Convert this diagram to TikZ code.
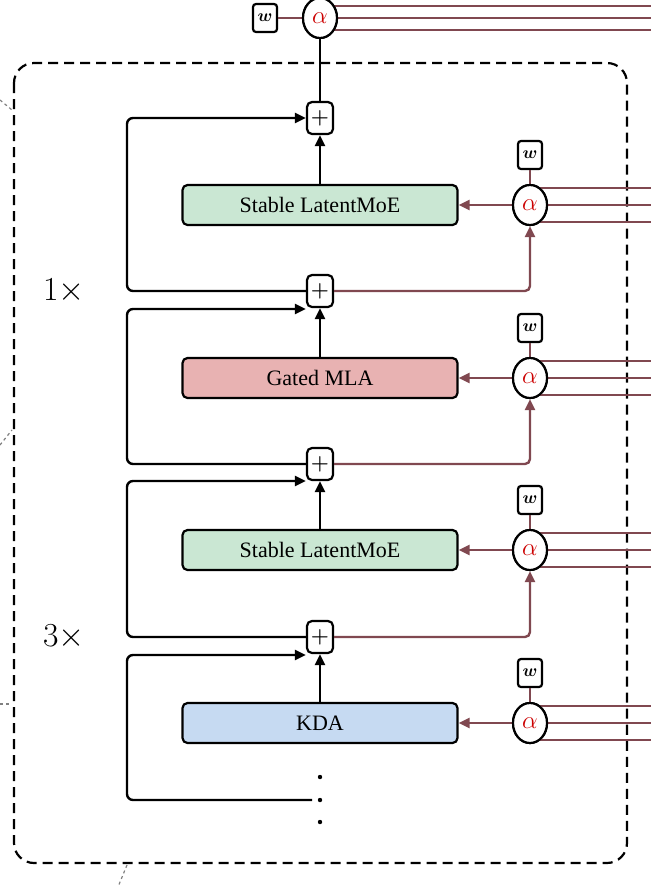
\documentclass[tikz,border=0pt]{standalone}
\usepackage{fontspec}
\setmainfont{Liberation Serif}
\usepackage{amsmath}
\usepackage{bm}
\usetikzlibrary{shapes,arrows.meta,positioning}
\definecolor{mixred}{RGB}{128,72,80}
\definecolor{moegreen}{RGB}{202,231,211}
\definecolor{mlared}{RGB}{232,178,178}
\definecolor{kdablue}{RGB}{198,218,242}
\tikzset{
  block/.style={draw, line width=2.2pt, rounded corners=5pt, minimum width=275pt, minimum height=40pt, font=\fontsize{22}{22}\selectfont},
  plusbox/.style={draw, line width=2.2pt, rounded corners=5pt, fill=white, minimum width=26pt, minimum height=32pt, inner sep=0pt, font=\huge},
  alphanode/.style={draw, ellipse, line width=2.2pt, fill=white, minimum width=34pt, minimum height=40pt, inner sep=0pt, text=red!80!black, font=\Huge},
  wbox/.style={draw, line width=2.2pt, rounded corners=3pt, fill=white, minimum width=24pt, minimum height=28pt, inner sep=0pt, font=\LARGE},
  count/.style={font=\Huge},
  flow/.style={line width=2.4pt, -{Triangle[length=11pt,width=10pt]}},
  mix/.style={mixred, line width=2.4pt},
  mixarrow/.style={mix, -{Triangle[length=11pt,width=10pt]}},
}
\begin{document}
\begin{tikzpicture}[x=1pt,y=-1pt]
	\useasboundingbox (0,0) rectangle (651,887);

	%The dashed outer box
	\draw[line width=2.2pt, dash pattern=on 10pt off 6pt, rounded corners=20pt] (14,63) rectangle (627,863);
	\draw[gray, line width=1.2pt, dash pattern=on 3pt off 3pt] (0,100) -- (12,110);
	\draw[gray, line width=1.2pt, dash pattern=on 3pt off 3pt] (0,445) -- (12,430);
	\draw[gray, line width=1.2pt, dash pattern=on 3pt off 3pt] (0,704) -- (12,704);
	\draw[gray, line width=1.2pt, dash pattern=on 3pt off 3pt] (127,865) -- (118,887);

	%Top mixing node
	\node[alphanode] (atop) at (320,18) {$\alpha$};
	\node[wbox] (wtop) at (265,18) {$\bm{w}$};
	\draw[mix] (wtop) -- (atop);
	\foreach \dy in {-12,0,12}
		\draw[mix] (330,18+\dy) -- (651,18+\dy);
	\node[alphanode] at (320,18) {$\alpha$};

	%Residual additions
	\foreach \name/\yy in {p1/118,p2/291,p3/464,p4/637}
		\node[plusbox] (\name) at (320,\yy) {$\bm{+}$};

	%Layer blocks
	\node[block, fill=moegreen] (moeA) at (320,205) {Stable LatentMoE};
	\node[block, fill=mlared]   (mla)  at (320,378) {Gated MLA};
	\node[block, fill=moegreen] (moeB) at (320,550) {Stable LatentMoE};
	\node[block, fill=kdablue]  (kda)  at (320,723) {KDA};

	%Mixing nodes next to each block
	\foreach \blk/\yy in {moeA/205,mla/378,moeB/550,kda/723}{
		\node[alphanode] (a\blk) at (530,\yy) {$\alpha$};
		\node[wbox] (w\blk) at (530,\yy-50) {$\bm{w}$};
		\draw[mix] (w\blk) -- (a\blk);
		\draw[mixarrow] (a\blk) -- (\blk);
		\foreach \dy in {-17,0,17}
			\draw[mix] (540,\yy+\dy) -- (651,\yy+\dy);
		\node[alphanode] at (530,\yy) {$\alpha$};
	}
	\draw[mixarrow, rounded corners=5pt] (p2.east) -| (amoeA.south);
	\draw[mixarrow, rounded corners=5pt] (p3.east) -| (amla.south);
	\draw[mixarrow, rounded corners=5pt] (p4.east) -| (amoeB.south);

	%Main stream
	\draw[line width=2.4pt] (p1) -- (atop);
	\draw[flow] (moeA) -- (p1);
	\draw[flow] (mla) -- (p2);
	\draw[flow] (moeB) -- (p3);
	\draw[flow] (kda) -- (p4);

	%Skip connections
	\draw[flow, rounded corners=6pt] (p2.west) -- (127,291) -- (127,118) -- (p1.west);
	\draw[flow, rounded corners=6pt] (p3.west) -- (127,464) -- (127,309) -- (p2.west |- 0,309);
	\draw[flow, rounded corners=6pt] (p4.west) -- (127,637) -- (127,481) -- (p3.west |- 0,481);
	\coordinate (dots) at (312,800);
	\draw[flow, rounded corners=6pt] (dots) -- (127,800) -- (127,655) -- (p4.west |- 0,655);
	\foreach \yy in {777,800,822}
		\fill (320,\yy) circle (2.2pt);

	%Repeat counts
	\node[count] (n1) at (64,291) {\scalebox{1.35}{$1\times$}};
	\node[count] (n3) at (64,637) {\scalebox{1.35}{$3\times$}};
\end{tikzpicture}
\end{document}
